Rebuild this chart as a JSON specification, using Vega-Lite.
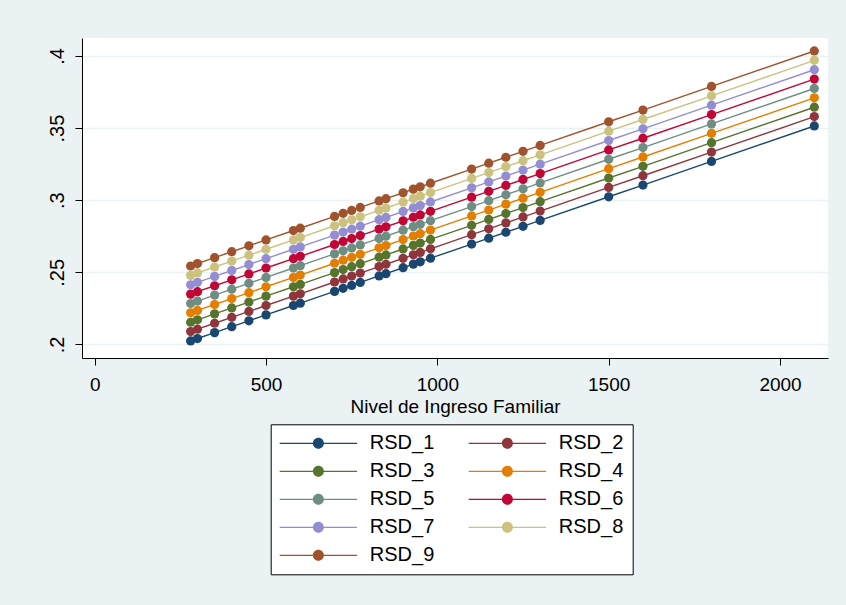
{
  "$schema": "https://vega.github.io/schema/vega-lite/v6.json",
  "width": 746,
  "height": 320,
  "autosize": {"type": "none"},
  "padding": {"left": 82, "top": 38, "right": 18, "bottom": 247},
  "background": "#EAF2F3",
  "config": {
    "font": "Liberation Sans",
    "view": {"fill": "white", "stroke": null}
  },
  "data": {
    "values": [
      {"x": 280, "RSD_1": 0.2024, "RSD_2": 0.2089, "RSD_3": 0.2154, "RSD_4": 0.2219, "RSD_5": 0.2284, "RSD_6": 0.2349, "RSD_7": 0.2414, "RSD_8": 0.2479, "RSD_9": 0.2544},
      {"x": 300, "RSD_1": 0.2041, "RSD_2": 0.2106, "RSD_3": 0.2171, "RSD_4": 0.2236, "RSD_5": 0.2301, "RSD_6": 0.2366, "RSD_7": 0.2431, "RSD_8": 0.2496, "RSD_9": 0.2561},
      {"x": 350, "RSD_1": 0.2082, "RSD_2": 0.2147, "RSD_3": 0.2212, "RSD_4": 0.2277, "RSD_5": 0.2342, "RSD_6": 0.2407, "RSD_7": 0.2472, "RSD_8": 0.2537, "RSD_9": 0.2602},
      {"x": 400, "RSD_1": 0.2123, "RSD_2": 0.2188, "RSD_3": 0.2253, "RSD_4": 0.2318, "RSD_5": 0.2383, "RSD_6": 0.2448, "RSD_7": 0.2513, "RSD_8": 0.2578, "RSD_9": 0.2643},
      {"x": 450, "RSD_1": 0.2164, "RSD_2": 0.2229, "RSD_3": 0.2294, "RSD_4": 0.2359, "RSD_5": 0.2424, "RSD_6": 0.2489, "RSD_7": 0.2554, "RSD_8": 0.2619, "RSD_9": 0.2684},
      {"x": 500, "RSD_1": 0.2205, "RSD_2": 0.2270, "RSD_3": 0.2335, "RSD_4": 0.2400, "RSD_5": 0.2465, "RSD_6": 0.2530, "RSD_7": 0.2595, "RSD_8": 0.2660, "RSD_9": 0.2725},
      {"x": 580, "RSD_1": 0.2270, "RSD_2": 0.2335, "RSD_3": 0.2400, "RSD_4": 0.2465, "RSD_5": 0.2530, "RSD_6": 0.2595, "RSD_7": 0.2660, "RSD_8": 0.2725, "RSD_9": 0.2790},
      {"x": 600, "RSD_1": 0.2286, "RSD_2": 0.2351, "RSD_3": 0.2416, "RSD_4": 0.2481, "RSD_5": 0.2546, "RSD_6": 0.2611, "RSD_7": 0.2676, "RSD_8": 0.2741, "RSD_9": 0.2806},
      {"x": 700, "RSD_1": 0.2368, "RSD_2": 0.2433, "RSD_3": 0.2498, "RSD_4": 0.2563, "RSD_5": 0.2628, "RSD_6": 0.2693, "RSD_7": 0.2758, "RSD_8": 0.2823, "RSD_9": 0.2888},
      {"x": 725, "RSD_1": 0.2389, "RSD_2": 0.2454, "RSD_3": 0.2519, "RSD_4": 0.2584, "RSD_5": 0.2649, "RSD_6": 0.2714, "RSD_7": 0.2779, "RSD_8": 0.2844, "RSD_9": 0.2909},
      {"x": 750, "RSD_1": 0.2409, "RSD_2": 0.2474, "RSD_3": 0.2539, "RSD_4": 0.2604, "RSD_5": 0.2669, "RSD_6": 0.2734, "RSD_7": 0.2799, "RSD_8": 0.2864, "RSD_9": 0.2929},
      {"x": 775, "RSD_1": 0.2430, "RSD_2": 0.2495, "RSD_3": 0.2560, "RSD_4": 0.2625, "RSD_5": 0.2690, "RSD_6": 0.2755, "RSD_7": 0.2820, "RSD_8": 0.2885, "RSD_9": 0.2950},
      {"x": 830, "RSD_1": 0.2475, "RSD_2": 0.2540, "RSD_3": 0.2605, "RSD_4": 0.2670, "RSD_5": 0.2735, "RSD_6": 0.2800, "RSD_7": 0.2865, "RSD_8": 0.2930, "RSD_9": 0.2995},
      {"x": 850, "RSD_1": 0.2491, "RSD_2": 0.2556, "RSD_3": 0.2621, "RSD_4": 0.2686, "RSD_5": 0.2751, "RSD_6": 0.2816, "RSD_7": 0.2881, "RSD_8": 0.2946, "RSD_9": 0.3011},
      {"x": 900, "RSD_1": 0.2532, "RSD_2": 0.2597, "RSD_3": 0.2662, "RSD_4": 0.2727, "RSD_5": 0.2792, "RSD_6": 0.2857, "RSD_7": 0.2922, "RSD_8": 0.2987, "RSD_9": 0.3052},
      {"x": 930, "RSD_1": 0.2557, "RSD_2": 0.2622, "RSD_3": 0.2687, "RSD_4": 0.2752, "RSD_5": 0.2817, "RSD_6": 0.2882, "RSD_7": 0.2947, "RSD_8": 0.3012, "RSD_9": 0.3077},
      {"x": 950, "RSD_1": 0.2573, "RSD_2": 0.2638, "RSD_3": 0.2703, "RSD_4": 0.2768, "RSD_5": 0.2833, "RSD_6": 0.2898, "RSD_7": 0.2963, "RSD_8": 0.3028, "RSD_9": 0.3093},
      {"x": 980, "RSD_1": 0.2598, "RSD_2": 0.2663, "RSD_3": 0.2728, "RSD_4": 0.2793, "RSD_5": 0.2858, "RSD_6": 0.2923, "RSD_7": 0.2988, "RSD_8": 0.3053, "RSD_9": 0.3118},
      {"x": 1100, "RSD_1": 0.2696, "RSD_2": 0.2761, "RSD_3": 0.2826, "RSD_4": 0.2891, "RSD_5": 0.2956, "RSD_6": 0.3021, "RSD_7": 0.3086, "RSD_8": 0.3151, "RSD_9": 0.3216},
      {"x": 1150, "RSD_1": 0.2737, "RSD_2": 0.2802, "RSD_3": 0.2867, "RSD_4": 0.2932, "RSD_5": 0.2997, "RSD_6": 0.3062, "RSD_7": 0.3127, "RSD_8": 0.3192, "RSD_9": 0.3257},
      {"x": 1200, "RSD_1": 0.2778, "RSD_2": 0.2843, "RSD_3": 0.2908, "RSD_4": 0.2973, "RSD_5": 0.3038, "RSD_6": 0.3103, "RSD_7": 0.3168, "RSD_8": 0.3233, "RSD_9": 0.3298},
      {"x": 1250, "RSD_1": 0.2819, "RSD_2": 0.2884, "RSD_3": 0.2949, "RSD_4": 0.3014, "RSD_5": 0.3079, "RSD_6": 0.3144, "RSD_7": 0.3209, "RSD_8": 0.3274, "RSD_9": 0.3339},
      {"x": 1300, "RSD_1": 0.2860, "RSD_2": 0.2925, "RSD_3": 0.2990, "RSD_4": 0.3055, "RSD_5": 0.3120, "RSD_6": 0.3185, "RSD_7": 0.3250, "RSD_8": 0.3315, "RSD_9": 0.3380},
      {"x": 1500, "RSD_1": 0.3024, "RSD_2": 0.3089, "RSD_3": 0.3154, "RSD_4": 0.3219, "RSD_5": 0.3284, "RSD_6": 0.3349, "RSD_7": 0.3414, "RSD_8": 0.3479, "RSD_9": 0.3544},
      {"x": 1600, "RSD_1": 0.3105, "RSD_2": 0.3170, "RSD_3": 0.3235, "RSD_4": 0.3300, "RSD_5": 0.3365, "RSD_6": 0.3430, "RSD_7": 0.3495, "RSD_8": 0.3560, "RSD_9": 0.3625},
      {"x": 1800, "RSD_1": 0.3269, "RSD_2": 0.3334, "RSD_3": 0.3399, "RSD_4": 0.3464, "RSD_5": 0.3529, "RSD_6": 0.3594, "RSD_7": 0.3659, "RSD_8": 0.3724, "RSD_9": 0.3789},
      {"x": 2100, "RSD_1": 0.3515, "RSD_2": 0.3580, "RSD_3": 0.3645, "RSD_4": 0.3710, "RSD_5": 0.3775, "RSD_6": 0.3840, "RSD_7": 0.3905, "RSD_8": 0.3970, "RSD_9": 0.4035}
    ]
  },
  "transform": [
    {"fold": ["RSD_1", "RSD_2", "RSD_3", "RSD_4", "RSD_5", "RSD_6", "RSD_7", "RSD_8", "RSD_9"], "as": ["series", "value"]}
  ],
  "encoding": {
    "x": {
      "field": "x", "type": "quantitative",
      "scale": {"domain": [-37, 2140], "nice": false, "zero": false},
      "axis": {
        "values": [0, 500, 1000, 1500, 2000],
        "format": "d",
        "grid": false,
        "domainColor": "black", "domainWidth": 1,
        "tickColor": "black", "tickSize": 7, "tickWidth": 1,
        "labelFontSize": 19, "labelColor": "black", "labelPadding": 10,
        "labelOverlap": false, "labelFlush": false,
        "title": "Nivel de Ingreso Familiar",
        "titleFontSize": 19, "titleFontWeight": "normal", "titleColor": "black",
        "titlePadding": 3
      }
    },
    "y": {
      "field": "value", "type": "quantitative",
      "scale": {"domain": [0.1906, 0.4125], "nice": false, "zero": false},
      "axis": {
        "values": [0.2, 0.25, 0.3, 0.35, 0.4],
        "labelExpr": "substring(format(datum.value, '.2~f'), 1)",
        "grid": true, "gridColor": "#EAF2F3", "gridWidth": 1.5,
        "domainColor": "black", "domainWidth": 1,
        "tickColor": "black", "tickSize": 7, "tickWidth": 1,
        "labelAngle": -90, "labelAlign": "center", "labelBaseline": "alphabetic",
        "labelFontSize": 20, "labelColor": "black", "labelPadding": 12,
        "labelOverlap": false, "labelFlush": false,
        "title": null
      }
    },
    "color": {
      "field": "series", "type": "nominal",
      "scale": {
        "domain": ["RSD_1", "RSD_2", "RSD_3", "RSD_4", "RSD_5", "RSD_6", "RSD_7", "RSD_8", "RSD_9"],
        "range": ["#1a476f", "#90353b", "#55752f", "#e37e00", "#6e8e84", "#c10534", "#938dd2", "#cac27e", "#a0522d"]
      },
      "legend": {
        "orient": "none",
        "direction": "horizontal",
        "legendX": 188.7,
        "legendY": 386.3,
        "columns": 2,
        "title": null,
        "symbolType": "M-7.74,-0.13H7.74V0.13H-7.74Z M1.1,0A1.1,1.1,0,1,1,-1.1,0A1.1,1.1,0,1,1,1.1,0Z",
        "symbolSize": 100,
        "symbolOffset": 28.7,
        "symbolStrokeWidth": 0,
        "symbolOpacity": 1,
        "labelOffset": 41.4,
        "labelFontSize": 20,
        "labelColor": "black",
        "fillColor": "white",
        "strokeColor": "black",
        "padding": 9,
        "rowPadding": 8,
        "columnPadding": 34,
        "encode": {
          "symbols": {
            "update": {
              "fill": {"scale": "color", "field": "value"},
              "stroke": {"value": "transparent"},
              "opacity": {"value": 1}
            }
          }
        }
      }
    }
  },
  "layer": [
    {
      "mark": {"type": "line", "strokeWidth": 1.4},
      "encoding": {"order": {"field": "x", "type": "quantitative"}}
    },
    {
      "mark": {"type": "point", "filled": true, "shape": "circle", "size": 85, "opacity": 1}
    }
  ]
}
